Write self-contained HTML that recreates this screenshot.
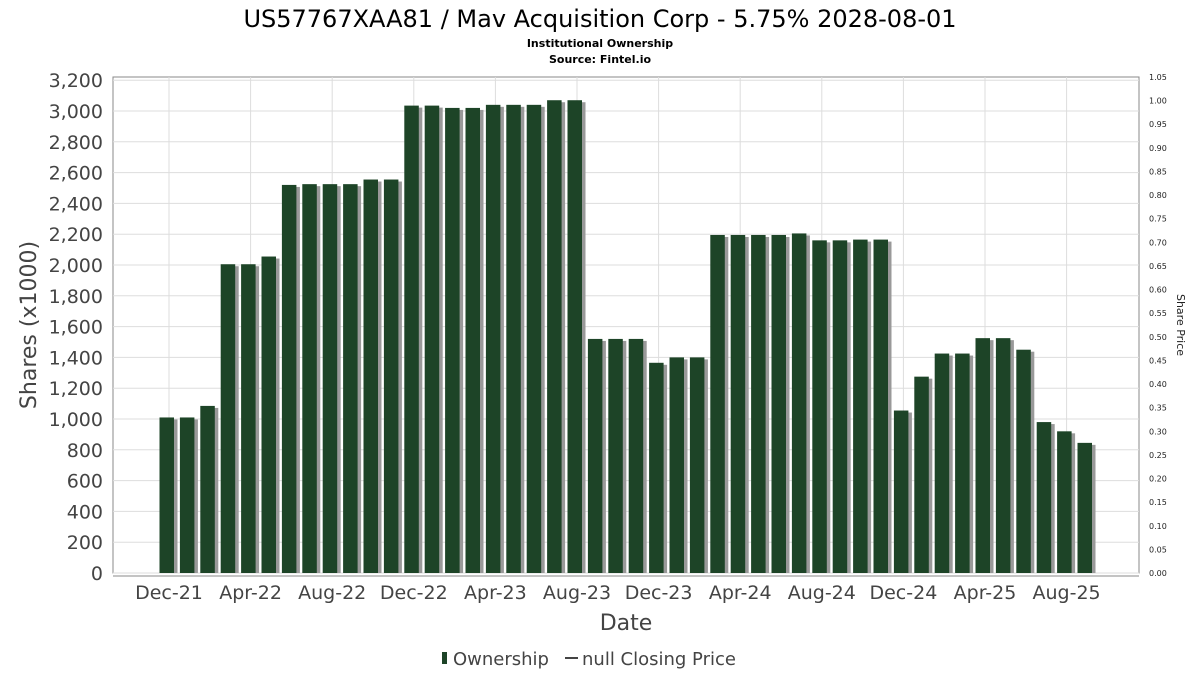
<!DOCTYPE html>
<html><head><meta charset="utf-8"><style>
body{margin:0;background:#fff;font-family:"DejaVu Sans","Liberation Sans",sans-serif}
</style></head><body>
<svg width="1200" height="675" xmlns="http://www.w3.org/2000/svg" font-family="DejaVu Sans, Liberation Sans, sans-serif">
<text x="600" y="27" font-size="24" text-anchor="middle" fill="#000">US57767XAA81 / Mav Acquisition Corp - 5.75% 2028-08-01</text>
<text x="600" y="47" font-size="11" font-weight="bold" text-anchor="middle">Institutional Ownership</text>
<text x="600" y="63" font-size="11" font-weight="bold" text-anchor="middle">Source: Fintel.io</text>
<rect x="113" y="77" width="1026" height="496" fill="#fff" stroke="#888"/>
<g id="grid"></g><g id="bars"></g><g id="axes"></g>
<line x1="113" y1="576" x2="1139" y2="576" stroke="#888"/>
<text transform="translate(36,325) rotate(-90)" font-size="22" text-anchor="middle" fill="#444">Shares (x1000)</text>
<text transform="translate(1177,325) rotate(90)" font-size="11" text-anchor="middle" fill="#222">Share Price</text>
<text x="626" y="630" font-size="22" text-anchor="middle" fill="#444">Date</text>
<g>
<rect x="442" y="652" width="5" height="12" fill="#1d4427"/>
<text x="453" y="665" font-size="18" fill="#444">Ownership</text>
<line x1="565" y1="658" x2="578" y2="658" stroke="#444" stroke-width="2"/>
<text x="582" y="665" font-size="18" fill="#444">null Closing Price</text>
</g>
</svg>
<script>
const values=[1010,1010,1085,2005,2005,2055,2520,2525,2525,2525,2555,2555,3035,3035,3020,3020,3040,3040,3040,3070,3070,1520,1520,1520,1365,1400,1400,2195,2195,2195,2195,2205,2160,2160,2165,2165,1055,1275,1425,1425,1525,1525,1450,980,920,845];
const yTicks=[0,200,400,600,800,1000,1200,1400,1600,1800,2000,2200,2400,2600,2800,3000,3200];
const y2Ticks=[0,0.05,0.1,0.15,0.2,0.25,0.3,0.35,0.4,0.45,0.5,0.55,0.6,0.65,0.7,0.75,0.8,0.85,0.9,0.95,1.0,1.05];
const xLabels=["Dec-21","Apr-22","Aug-22","Dec-22","Apr-23","Aug-23","Dec-23","Apr-24","Aug-24","Dec-24","Apr-25","Aug-25"];
const NS="http://www.w3.org/2000/svg";
const y=v=>573-v*0.154;
const y2=v=>573-v*(496/1.05);
const x=i=>167+i*20.4;
const grid=document.getElementById('grid'),bars=document.getElementById('bars'),axes=document.getElementById('axes');
function mk(tag,attrs,parent){const e=document.createElementNS(NS,tag);for(const k in attrs)e.setAttribute(k,attrs[k]);parent.appendChild(e);return e;}
yTicks.forEach(t=>{
 const l=mk('line',{x1:113,x2:1139,y1:y(t),y2:y(t),stroke:'#ddd'},grid);
 
 
 const tx=mk('text',{x:103,y:y(t)+7,'font-size':19,'text-anchor':'end',fill:'#444'},axes);
 tx.textContent=t.toLocaleString('en-US');
 
 
});
y2Ticks.forEach(t=>{
 const tx=mk('text',{x:1149,y:y2(t)+3,'font-size':8,fill:'#222'},axes);
 tx.textContent=t.toFixed(2);
 
 
});
xLabels.forEach((s,k)=>{
 const cx=x(k*4)+2;
 const l=mk('line',{x1:cx,x2:cx,y1:77,y2:573,stroke:'#ddd'},grid);
 
 
 const tx=mk('text',{x:cx,y:599,'font-size':19,'text-anchor':'middle',fill:'#444'},axes);
 tx.textContent=s;
 
 
});
values.forEach((v,i)=>{
 const sh=mk('rect',{x:x(i)-7+3,y:y(v)+2,width:14.5,height:573-y(v)-2,fill:'#999'},bars);
 
 
 const b=mk('rect',{x:x(i)-7.5,y:y(v),width:14.5,height:573-y(v),fill:'#1d4427'},bars);
 
 
});
</script>
</body></html>
